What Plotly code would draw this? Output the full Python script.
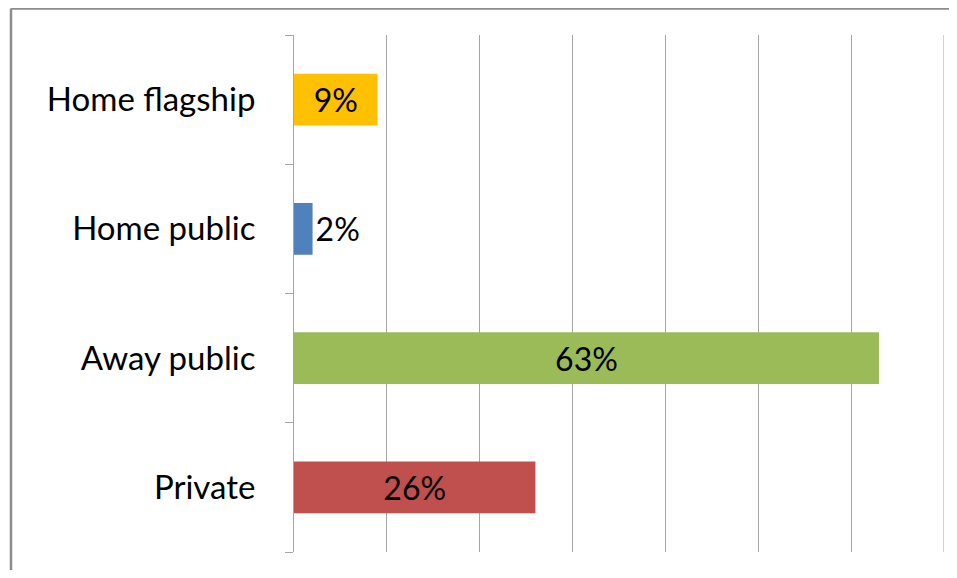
import plotly.graph_objects as go

categories = ["Private", "Away public", "Home public", "Home flagship"]
values = [26, 63, 2, 9]
colors = ["#C0504D", "#9BBB59", "#4F81BD", "#FFC000"]
labels = [f"{v}%" for v in values]
x_max = 70

# page shows the figure offset by the 8px body margin
OFF = 8
W, H = 957 - 2 * OFF, 578 - 2 * OFF
L = 294 - OFF
T = 35 - OFF
R = W - (944 - OFF)
B = H - (552 - OFF)
pw, ph = W - L - R, H - T - B

fig = go.Figure(go.Bar(
    y=categories, x=values, orientation="h",
    marker=dict(color=colors, line=dict(width=0)),
    text=labels, textposition="auto", insidetextanchor="middle",
    textfont=dict(family="Lato", size=32, color="#000000"),
    cliponaxis=False,
))

fig.update_layout(
    width=W, height=H,
    margin=dict(l=L, r=R, t=T, b=B, pad=0),
    paper_bgcolor="white", plot_bgcolor="white",
    bargap=0.6, showlegend=False,
    font=dict(family="Lato", size=33, color="#000000"),
    xaxis=dict(range=[0, x_max], dtick=10, showticklabels=False, showgrid=True,
               gridcolor="#A6A6A6", gridwidth=1, zeroline=False, showline=False,
               ticks=""),
    yaxis=dict(type="category", tickson="boundaries", ticks="outside", ticklen=8,
               tickcolor="#A6A6A6", tickwidth=1, showline=True, linecolor="#A6A6A6",
               linewidth=1, showgrid=False, ticklabelstandoff=31,
               tickfont=dict(family="Lato", size=33, color="#000000")),
)

# last gridline at the right edge of the value axis
fig.add_shape(type="line", xref="x", yref="paper", x0=x_max, x1=x_max, y0=0, y1=1,
              line=dict(color="#A6A6A6", width=1), layer="below")

# outer chart frame (left and top edges visible)
x_left = (11 - OFF - L) / pw
y_top = (H - B - 0.5) / ph
fig.add_shape(type="line", xref="paper", yref="paper", x0=x_left, x1=x_left,
              y0=y_top, y1=-1, line=dict(color="#8C8C8C", width=2.5))
fig.add_shape(type="line", xref="paper", yref="paper", x0=x_left, x1=2,
              y0=y_top, y1=y_top, line=dict(color="#8C8C8C", width=2.5))

fig.write_html("out.html")
